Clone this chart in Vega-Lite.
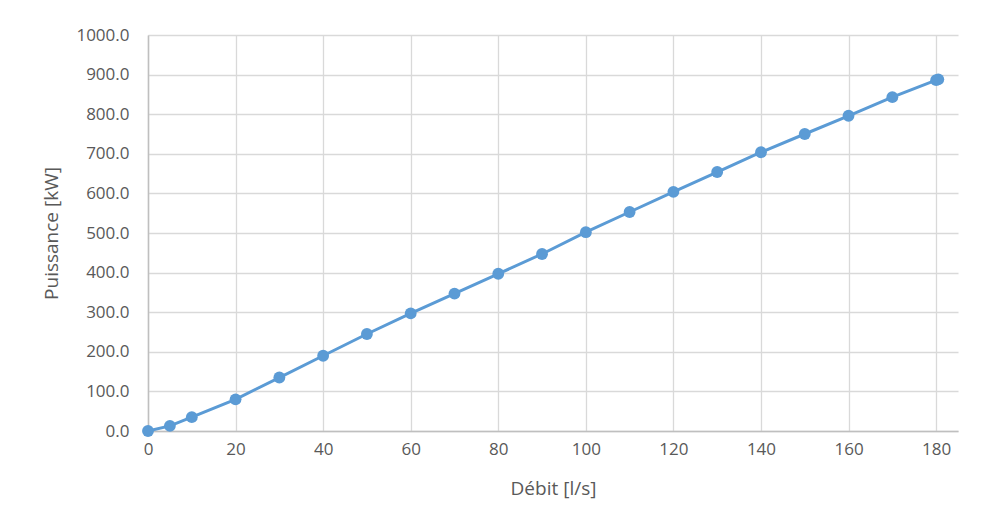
{
  "$schema": "https://vega.github.io/schema/vega-lite/v6.json",
  "autosize": "none",
  "width": 810,
  "height": 396,
  "padding": {"left": 148, "top": 35, "right": 30, "bottom": 95},
  "background": "white",
  "data": {"values": [
    {"debit": 0, "puissance": 0},
    {"debit": 5, "puissance": 13},
    {"debit": 10, "puissance": 35},
    {"debit": 20, "puissance": 80},
    {"debit": 30, "puissance": 135},
    {"debit": 40, "puissance": 190},
    {"debit": 50, "puissance": 245},
    {"debit": 60, "puissance": 297},
    {"debit": 70, "puissance": 347},
    {"debit": 80, "puissance": 397},
    {"debit": 90, "puissance": 447},
    {"debit": 100, "puissance": 502},
    {"debit": 110, "puissance": 553},
    {"debit": 120, "puissance": 604},
    {"debit": 130, "puissance": 654},
    {"debit": 140, "puissance": 704},
    {"debit": 150, "puissance": 750},
    {"debit": 160, "puissance": 796},
    {"debit": 170, "puissance": 843},
    {"debit": 180, "puissance": 886},
    {"debit": 180.5, "puissance": 888}
  ]},
  "mark": {"type": "line", "color": "#5B9BD5", "strokeWidth": 3, "point": {"filled": true, "size": 140, "color": "#5B9BD5", "opacity": 1}},
  "encoding": {
    "x": {"field": "debit", "type": "quantitative", "scale": {"domain": [0, 185], "nice": false},
      "axis": {"values": [0, 20, 40, 60, 80, 100, 120, 140, 160, 180], "title": "Débit [l/s]", "titlePadding": 22, "labelPadding": 10}},
    "y": {"field": "puissance", "type": "quantitative", "scale": {"domain": [0, 1000], "nice": false},
      "axis": {"values": [0, 100, 200, 300, 400, 500, 600, 700, 800, 900, 1000], "format": ".1f", "title": "Puissance [kW]", "titlePadding": 14, "labelPadding": 19}}
  },
  "config": {
    "view": {"stroke": null},
    "font": "Open Sans",
    "axis": {
      "ticks": false,
      "labelFlush": false,
      "labelOverlap": false,
      "domainColor": "#bfbfbf",
      "domainWidth": 1.5,
      "gridColor": "#d9d9d9",
      "gridWidth": 1.3,
      "labelColor": "#595959",
      "labelFont": "Open Sans",
      "labelFontSize": 17,
      "titleColor": "#595959",
      "titleFont": "Open Sans",
      "titleFontSize": 19,
      "titleFontWeight": "normal"
    }
  }
}
